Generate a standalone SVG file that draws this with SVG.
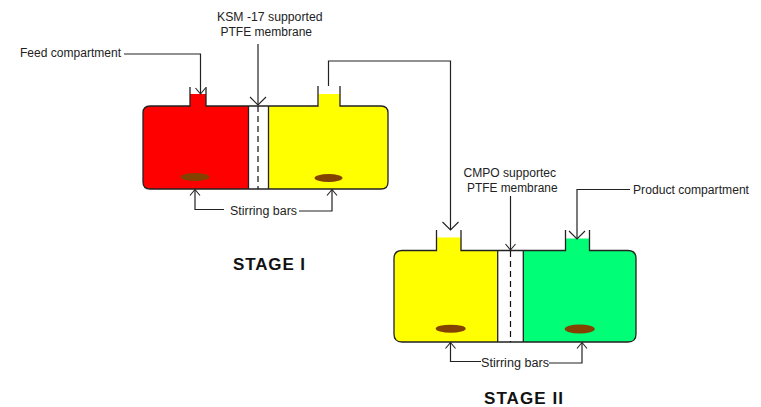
<svg xmlns="http://www.w3.org/2000/svg" width="761" height="407" viewBox="0 0 761 407">
<style>
text{font-family:"Liberation Sans",Arial,sans-serif;font-size:12px;fill:#222}
.t{font-weight:bold;font-size:17px;fill:#111}
.o{fill:none;stroke:#222;stroke-width:1.3}
.c{fill:none;stroke:#222;stroke-width:1.2}
.d{fill:none;stroke:#111;stroke-width:1.2;stroke-dasharray:6 4}
.b{fill:#844200}
</style>
<defs>
<marker id="a" markerUnits="userSpaceOnUse" markerWidth="20" markerHeight="20" refX="10" refY="10" orient="auto"><path d="M2 2L10 10L2 18" fill="none" stroke="#222" stroke-width="1.1"/></marker>
<marker id="s" markerUnits="userSpaceOnUse" markerWidth="14" markerHeight="14" refX="7" refY="7" orient="auto"><path d="M1 2L7 7L1 12" fill="none" stroke="#222" stroke-width="1.1"/></marker>
</defs>
<rect width="761" height="407" fill="#fff"/>
<g id="cell-stage-1">
<path d="M150 106H190V94H206V106H248.5V189H150Q143 189 143 182V113Q143 106 150 106Z" fill="#f00"/>
<path d="M268.5 106H318.500V94H340V106H381Q388 106 388 113V182Q388 189 381 189H268.500Z" fill="#ff0"/>
<path class="o" d="M190 87V106H150Q143 106 143 113V182Q143 189 150 189H381Q388 189 388 182V113Q388 106 381 106H340V86M318 86V106H206V87M248.500 106V189M268.500 106V189"/>
<path class="d" d="M258 106V189"/>
<ellipse class="b" cx="195" cy="177" rx="14.500" ry="4"/>
<ellipse class="b" cx="328.500" cy="178" rx="14" ry="4"/>
</g>
<g id="cell-stage-2">
<path d="M402 250.500H437V237.500H461V250.500H497.500V342H402Q394 342 394 334V258.500Q394 250.500 402 250.500Z" fill="#ff0"/>
<path d="M523.500 250.500H566V238.500H589.500V250.500H628Q636 250.500 636 258.500V334Q636 342 628 342H523.500Z" fill="#0f7f"/>
<path class="o" d="M436.500 230V250.500H402Q394 250.500 394 258.500V334Q394 342 402 342H628Q636 342 636 334V258.500Q636 250.500 628 250.500H589.500V230M565.500 230V250.500H461V230M497.700 250.500V342M523.300 250.500V342"/>
<path class="d" d="M510.500 251V342"/>
<ellipse class="b" cx="450.700" cy="328.700" rx="15" ry="4"/>
<ellipse class="b" cx="579.700" cy="329" rx="15" ry="4.500"/>
</g>
<g id="connectors">
<path class="c" d="M124 54H200.500V94" marker-end="url(#s)"/>
<path class="c" d="M258 44V105" marker-end="url(#a)"/>
<path class="c" d="M328.500 86V61H450.500V230" marker-end="url(#a)"/>
<path class="c" d="M224 209.500H195V189.500" marker-end="url(#s)"/>
<path class="c" d="M299 211H332V189.500" marker-end="url(#s)"/>
<path class="c" d="M510.500 196V250" marker-end="url(#s)"/>
<path class="c" d="M630 189.500H577V239" marker-end="url(#a)"/>
<path class="c" d="M481 361.500H450.500V342.500" marker-end="url(#s)"/>
<path class="c" d="M549 363H582V342.500" marker-end="url(#s)"/>
</g>
<g id="labels">
<text x="20" y="57" textLength="101" lengthAdjust="spacingAndGlyphs">Feed compartment</text>
<text x="217" y="21" textLength="105.500" lengthAdjust="spacingAndGlyphs">KSM -17 supported</text>
<text x="220.500" y="36" textLength="91.500" lengthAdjust="spacingAndGlyphs">PTFE membrane</text>
<text x="230" y="215" textLength="67" lengthAdjust="spacingAndGlyphs">Stirring bars</text>
<text x="463.500" y="177" textLength="92.500" lengthAdjust="spacingAndGlyphs">CMPO supportec</text>
<text x="467" y="192" textLength="90.500" lengthAdjust="spacingAndGlyphs">PTFE membrane</text>
<text x="633" y="194" textLength="116" lengthAdjust="spacingAndGlyphs">Product compartment</text>
<text x="481" y="367" textLength="68" lengthAdjust="spacingAndGlyphs">Stirring bars</text>
<text class="t" x="233" y="270" textLength="72" lengthAdjust="spacing">STAGE I</text>
<text class="t" x="484" y="404" textLength="79" lengthAdjust="spacing">STAGE II</text>
</g>
</svg>
